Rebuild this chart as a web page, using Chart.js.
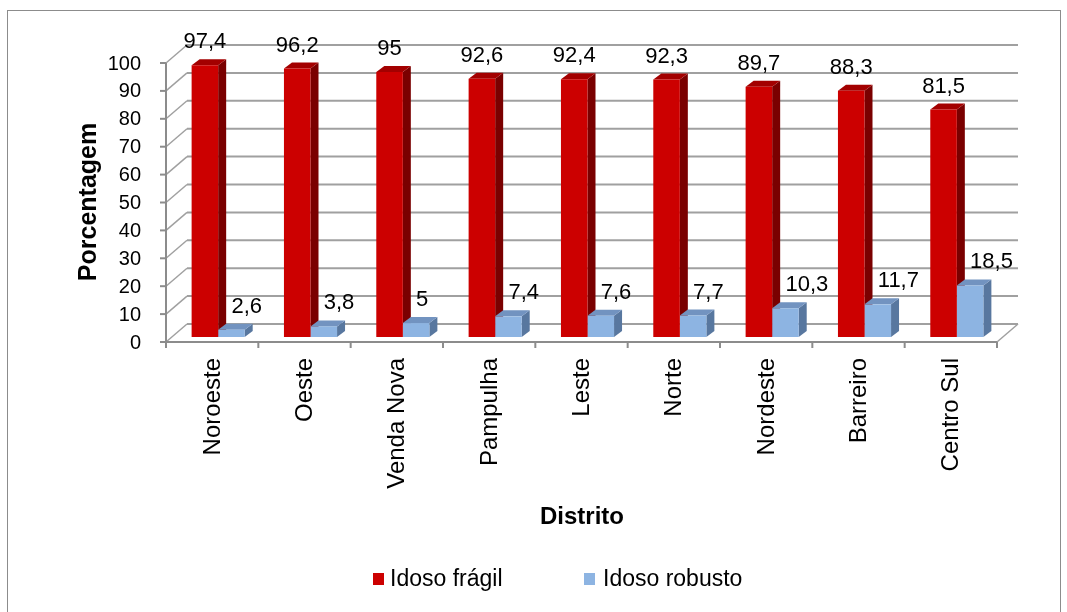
<!DOCTYPE html>
<html>
<head>
<meta charset="utf-8">
<script src="https://cdn.jsdelivr.net/npm/chart.js@4.4.1/dist/chart.umd.min.js"></script>
<style>
  html, body { margin: 0; padding: 0; background: #ffffff; }
  #wrap { width: 1067px; height: 612px; position: relative; }
</style>
</head>
<body>
<div id="wrap"><canvas id="c" width="1067" height="612"></canvas></div>
<script>
// ---- data ----
const categories = ['Noroeste', 'Oeste', 'Venda Nova', 'Pampulha', 'Leste', 'Norte', 'Nordeste', 'Barreiro', 'Centro Sul'];
const idosoFragil = [97.4, 96.2, 95, 92.6, 92.4, 92.3, 89.7, 88.3, 81.5];
const idosoRobusto = [2.6, 3.8, 5, 7.4, 7.6, 7.7, 10.3, 11.7, 18.5];
const yTicks = [0, 10, 20, 30, 40, 50, 60, 70, 80, 90, 100];
const seriesNames = ['Idoso frágil', 'Idoso robusto'];
const axisTitles = { x: 'Distrito', y: 'Porcentagem' };

// ---- styles ----
const FONT = '"Liberation Sans", Arial, sans-serif';
const colors = {
  front: ['#CC0000', '#8DB4E2'],
  side:  ['#7A0000', '#58779F'],
  top:   ['#A30000', '#7293C0']
};
const FRONT = { dx: -6, dy: 5 };     // front plane offset from the bar plane
const BACK = { dx: 15, dy: -13 };    // back wall offset from the bar plane
const DEPTH = { dx: 8, dy: -6 };     // bar depth
const GRID = '#A0A0A0';

function fmt(v) { return String(v).replace('.', ','); }

const threeD = {
  id: 'threeD',
  beforeDatasetsDraw(chart) {
    const ctx = chart.ctx;
    const xs = chart.scales.x, ys = chart.scales.y;
    const fL = xs.left + FRONT.dx, fR = xs.right + FRONT.dx;
    const bL = xs.left + BACK.dx, bR = xs.right + BACK.dx;
    ctx.save();
    ctx.lineCap = 'butt';
    // back wall gridlines + left wall diagonals
    ctx.strokeStyle = GRID;
    ctx.lineWidth = 2;
    yTicks.forEach(v => {
      const yb = ys.getPixelForValue(v) + BACK.dy;
      const yf = ys.getPixelForValue(v) + FRONT.dy;
      ctx.beginPath();
      ctx.moveTo(bL, yb); ctx.lineTo(bR, yb);
      ctx.stroke();
      ctx.beginPath();
      ctx.lineWidth = 1.5;
      ctx.moveTo(fL, yf); ctx.lineTo(bL, yb);
      ctx.stroke();
      ctx.lineWidth = 2;
    });
    // floor right edge
    const y0f = ys.getPixelForValue(0) + FRONT.dy;
    const y0b = ys.getPixelForValue(0) + BACK.dy;
    ctx.lineWidth = 1.5;
    ctx.beginPath(); ctx.moveTo(fR, y0f); ctx.lineTo(bR, y0b); ctx.stroke();
    // front vertical axis + ticks
    ctx.strokeStyle = '#8C8C8C';
    ctx.lineWidth = 2;
    const y100f = ys.getPixelForValue(100) + FRONT.dy;
    ctx.beginPath(); ctx.moveTo(fL, y0f + 1); ctx.lineTo(fL, y100f); ctx.stroke();
    yTicks.forEach(v => {
      const yf = ys.getPixelForValue(v) + FRONT.dy;
      ctx.beginPath(); ctx.moveTo(fL - 6, yf); ctx.lineTo(fL, yf); ctx.stroke();
    });
    // front horizontal axis + ticks
    ctx.beginPath(); ctx.moveTo(fL, y0f); ctx.lineTo(fR, y0f); ctx.stroke();
    const step = (xs.right - xs.left) / categories.length;
    for (let i = 0; i <= categories.length; i++) {
      const x = fL + step * i;
      ctx.beginPath(); ctx.moveTo(x, y0f); ctx.lineTo(x, y0f + 6); ctx.stroke();
    }
    // bar side and top faces
    chart.data.datasets.forEach((ds, di) => {
      const meta = chart.getDatasetMeta(di);
      meta.data.forEach(el => {
        const w = el.width, l = el.x - w / 2, r = el.x + w / 2, t = el.y, b = el.base;
        ctx.fillStyle = colors.side[di];
        ctx.beginPath();
        ctx.moveTo(r, t); ctx.lineTo(r + DEPTH.dx, t + DEPTH.dy);
        ctx.lineTo(r + DEPTH.dx, b + DEPTH.dy); ctx.lineTo(r, b); ctx.closePath();
        ctx.fill();
        ctx.fillStyle = colors.top[di];
        ctx.beginPath();
        ctx.moveTo(l, t); ctx.lineTo(l + DEPTH.dx, t + DEPTH.dy);
        ctx.lineTo(r + DEPTH.dx, t + DEPTH.dy); ctx.lineTo(r, t); ctx.closePath();
        ctx.fill();
      });
    });
    ctx.restore();
  },
  afterDatasetsDraw(chart) {
    const ctx = chart.ctx;
    ctx.save();
    ctx.fillStyle = '#000';
    ctx.font = '22px ' + FONT;
    ctx.textBaseline = 'middle';
    chart.data.datasets.forEach((ds, di) => {
      const meta = chart.getDatasetMeta(di);
      meta.data.forEach((el, i) => {
        ctx.textAlign = di === 0 ? 'center' : 'left';
        ctx.fillText(fmt(ds.data[i]), el.x, el.y - 23);
      });
    });
    ctx.restore();
  },
  afterDraw(chart) {
    const ctx = chart.ctx;
    const xs = chart.scales.x, ys = chart.scales.y;
    ctx.save();
    ctx.fillStyle = '#000';
    // y tick labels
    ctx.font = '20px ' + FONT;
    ctx.textAlign = 'right';
    ctx.textBaseline = 'middle';
    yTicks.forEach(v => {
      ctx.fillText(String(v), xs.left + FRONT.dx - 25, ys.getPixelForValue(v) + FRONT.dy + 1);
    });
    // category labels
    ctx.font = '24px ' + FONT;
    categories.forEach((c, i) => {
      const x = xs.getPixelForValue(i) + FRONT.dx;
      ctx.save();
      ctx.translate(x + 1, 358);
      ctx.rotate(-Math.PI / 2);
      ctx.textAlign = 'right';
      ctx.textBaseline = 'middle';
      ctx.fillText(c, 0, 0);
      ctx.restore();
    });
    // axis titles
    ctx.font = 'bold 24px ' + FONT;
    ctx.textAlign = 'center';
    ctx.textBaseline = 'middle';
    ctx.fillText(axisTitles.x, 582, 517);
    ctx.save();
    ctx.translate(89, 202);
    ctx.rotate(-Math.PI / 2);
    ctx.font = 'bold 25px ' + FONT;
    ctx.fillText(axisTitles.y, 0, 0);
    ctx.restore();
    // legend
    ctx.font = '23px ' + FONT;
    ctx.textAlign = 'left';
    const leg = [{ sx: 373, tx: 390 }, { sx: 584, tx: 603 }];
    seriesNames.forEach((n, i) => {
      ctx.fillStyle = colors.front[i];
      ctx.fillRect(leg[i].sx, 573, 11, 12);
      ctx.fillStyle = '#000';
      ctx.fillText(n, leg[i].tx, 580);
    });
    // outer frame
    ctx.strokeStyle = '#8C8C8C';
    ctx.lineWidth = 1;
    ctx.strokeRect(7.5, 10.5, 1053, 640);
    ctx.restore();
  }
};

new Chart(document.getElementById('c'), {
  type: 'bar',
  data: {
    labels: categories,
    datasets: [
      { label: seriesNames[0], data: idosoFragil, backgroundColor: colors.front[0], borderWidth: 0,
        categoryPercentage: 0.575, barPercentage: 1 },
      { label: seriesNames[1], data: idosoRobusto, backgroundColor: colors.front[1], borderWidth: 0,
        categoryPercentage: 0.575, barPercentage: 1 }
    ]
  },
  options: {
    responsive: false,
    animation: false,
    devicePixelRatio: 1,
    layout: { padding: { left: 172, right: 64, top: 58, bottom: 275 } },
    plugins: { legend: { display: false }, tooltip: { enabled: false } },
    scales: {
      x: { display: false, grid: { display: false } },
      y: { display: false, min: 0, max: 100, grid: { display: false } }
    }
  },
  plugins: [threeD]
});
</script>
</body>
</html>
